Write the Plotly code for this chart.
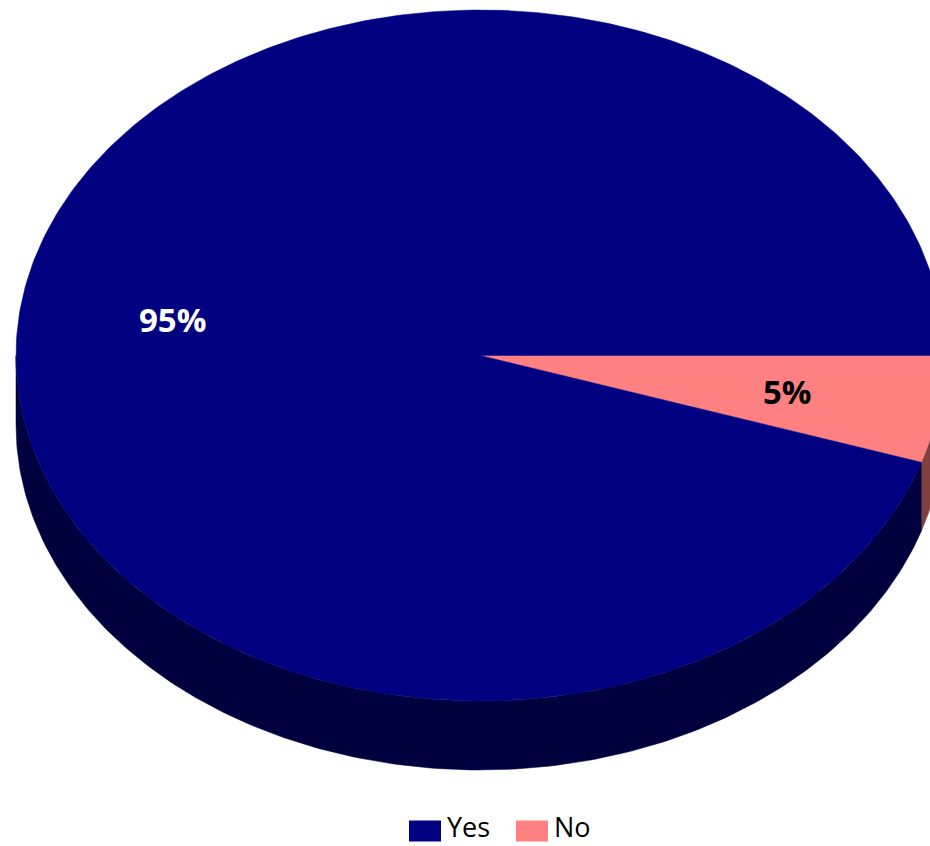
import numpy as np
import plotly.graph_objects as go

# ---- data ----
categories = ["Yes", "No"]
values = [95, 5]
top_colors = ["#000080", "#FF8080"]
side_colors = ["#00003F", "#804040"]
label_colors = ["#FFFFFF", "#000000"]

# ---- geometry (pixel-like data space) ----
W, H = 930, 846
cx, cy = 480.0, 355.5
a, b = 464.0, 345.5
depth = 69.0
label_frac = 0.67

total = float(sum(values))
# slices go clockwise on screen starting at 3 o'clock; "No" starts at 0
order = [1, 0]
angles = {}
start = 0.0
for i in order:
    span = values[i] / total * 360.0
    angles[i] = (start, start + span)
    start += span


def ell(t_deg, dy=0.0):
    t = np.radians(t_deg)
    return cx + a * np.cos(t), cy + b * np.sin(t) + dy


fig = go.Figure()

# side walls (visible front part: screen angle 0..180)
for i in order:
    t0, t1 = angles[i]
    s0, s1 = max(t0, 0.0), min(t1, 180.0)
    if s1 <= s0:
        continue
    ts = np.linspace(s0, s1, 200)
    xt, yt = ell(ts)
    xb, yb = ell(ts[::-1], depth)
    xs = np.concatenate([xt, xb, xt[:1]])
    ys = np.concatenate([yt, yb, yt[:1]])
    fig.add_trace(go.Scatter(x=xs, y=ys, mode="lines", fill="toself",
                             fillcolor=side_colors[i],
                             line=dict(color=side_colors[i], width=0.5),
                             hoverinfo="skip", showlegend=False))

# top faces
for i in order:
    t0, t1 = angles[i]
    ts = np.linspace(t0, t1, 400)
    xt, yt = ell(ts)
    xs = np.concatenate([[cx], xt, [cx]])
    ys = np.concatenate([[cy], yt, [cy]])
    fig.add_trace(go.Scatter(x=xs, y=ys, mode="lines", fill="toself",
                             fillcolor=top_colors[i],
                             line=dict(color=top_colors[i], width=0.5),
                             hoverinfo="skip", showlegend=False,
                             name=categories[i]))

# data labels
for i in order:
    t0, t1 = angles[i]
    tm = np.radians((t0 + t1) / 2)
    lx = cx + a * label_frac * np.cos(tm)
    ly = cy + b * label_frac * np.sin(tm)
    fig.add_annotation(x=lx, y=ly, text=f"<b>{values[i] / total * 100:.0f}%</b>",
                       showarrow=False, xanchor="center", yanchor="middle",
                       font=dict(family="Open Sans", size=33, color=label_colors[i]))

# manual legend
legend_y = 831
legend_items_x = [409, 516]
for k, i in enumerate([0, 1]):
    x0 = legend_items_x[k]
    fig.add_shape(type="rect", x0=x0, x1=x0 + 32, y0=legend_y - 10.5, y1=legend_y + 10.5,
                  fillcolor=top_colors[i], line=dict(width=0), layer="above")
    fig.add_annotation(x=x0 + 37, y=H, text=categories[i], showarrow=False,
                       xanchor="left", yanchor="bottom", borderpad=0,
                       font=dict(family="Open Sans", size=27, color="#000000"))

fig.update_layout(
    width=W, height=H,
    margin=dict(l=0, r=0, t=0, b=0),
    paper_bgcolor="white", plot_bgcolor="white",
    xaxis=dict(range=[0, W], visible=False, fixedrange=True),
    yaxis=dict(range=[H, 0], visible=False, fixedrange=True),
    showlegend=False,
)

fig.write_html("out.html", config={"displayModeBar": False},
               post_script="document.body.style.margin='0';document.body.style.overflow='hidden';")
